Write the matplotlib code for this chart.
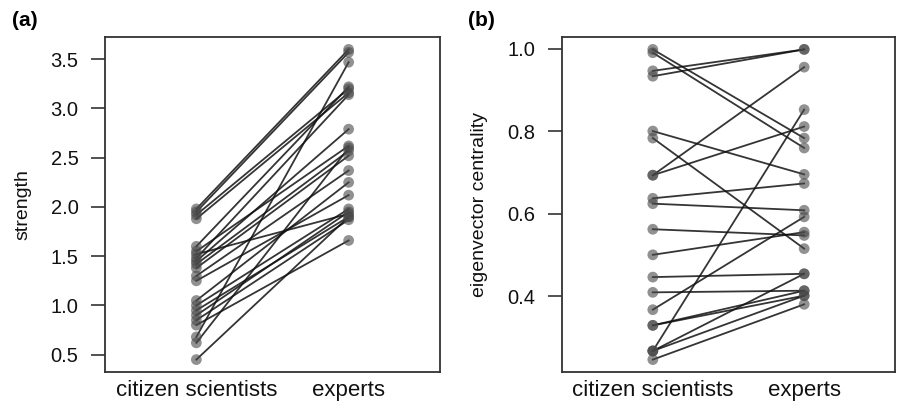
import matplotlib
matplotlib.use("Agg")
import matplotlib.pyplot as plt
import numpy as np

plt.rcParams['font.family'] = ['Liberation Sans', 'DejaVu Sans']

groups = ["citizen scientists", "experts"]

# panel (a): strength, paired values (citizen -> expert)
a_citizen = [1.98, 1.95, 1.92, 1.88, 1.60, 1.55, 1.52, 1.48, 1.45, 1.42, 1.38,
             1.30, 1.25, 1.05, 1.00, 0.95, 0.90, 0.85, 0.80, 0.68, 0.62, 0.45]
a_expert = [3.60, 3.57, 3.20, 3.16, 3.22, 2.62, 1.93, 3.14, 2.79, 2.57, 2.52,
            2.37, 2.12, 2.25, 1.98, 1.90, 1.95, 1.87, 1.66, 3.47, 2.60, 1.90]
a_ticks = [0.5, 1.0, 1.5, 2.0, 2.5, 3.0, 3.5]

# panel (b): eigenvector centrality, paired values
b_citizen = [0.998, 0.99, 0.946, 0.933, 0.80, 0.783, 0.693, 0.693, 0.637, 0.624,
             0.562, 0.50, 0.446, 0.409, 0.367, 0.329, 0.267, 0.267, 0.267, 0.246, 0.329]
b_expert = [0.783, 0.759, 0.998, 0.998, 0.695, 0.515, 0.955, 0.811, 0.673, 0.608,
            0.547, 0.555, 0.454, 0.413, 0.592, 0.401, 0.852, 0.454, 0.401, 0.38, 0.413]
b_ticks = [0.4, 0.6, 0.8, 1.0]

fig = plt.figure(figsize=(8.98, 4.04), dpi=100)
ax_a = fig.add_axes([105/898, 32/404, 335/898, 335/404])
ax_b = fig.add_axes([562/898, 32/404, 333/898, 335/404])

def draw(ax, c, e, ticks, ylabel):
    for yc, ye in zip(c, e):
        ax.plot([1, 2], [yc, ye], color='#111111', lw=1.3, alpha=0.85, zorder=2)
    ax.scatter(np.ones(len(c)), c, s=60, color='#484848', alpha=0.6,
               edgecolors='none', zorder=3)
    ax.scatter(np.full(len(e), 2), e, s=60, color='#484848', alpha=0.6,
               edgecolors='none', zorder=3)
    allv = list(c) + list(e)
    lo, hi = min(allv), max(allv)
    pad = 0.04 * (hi - lo)
    ax.set_ylim(lo - pad, hi + pad)
    ax.set_xlim(0.4, 2.6)
    ax.set_yticks(ticks)
    ax.set_yticklabels([f"{t:.1f}" for t in ticks])
    ax.set_xticks([1, 2])
    ax.set_xticklabels(groups)
    ax.tick_params(axis='x', length=0, pad=6, labelsize=16, colors='#111111')
    ax.tick_params(axis='y', length=10, width=1.2, pad=9, labelsize=14.5,
                   colors='#333333', labelcolor='#111111')
    for s in ax.spines.values():
        s.set_linewidth(1.3)
        s.set_color('#333333')
    ax.set_ylabel(ylabel, fontsize=14, color='#111111', labelpad=14)

draw(ax_a, a_citizen, a_expert, a_ticks, "strength")
draw(ax_b, b_citizen, b_expert, b_ticks, "eigenvector centrality")

fig.text(12/898, 1 - 20/404, "(a)", fontsize=15, fontweight='bold', va='center', ha='left')
fig.text(468/898, 1 - 20/404, "(b)", fontsize=15, fontweight='bold', va='center', ha='left')

fig.savefig("out.png", dpi=100)
